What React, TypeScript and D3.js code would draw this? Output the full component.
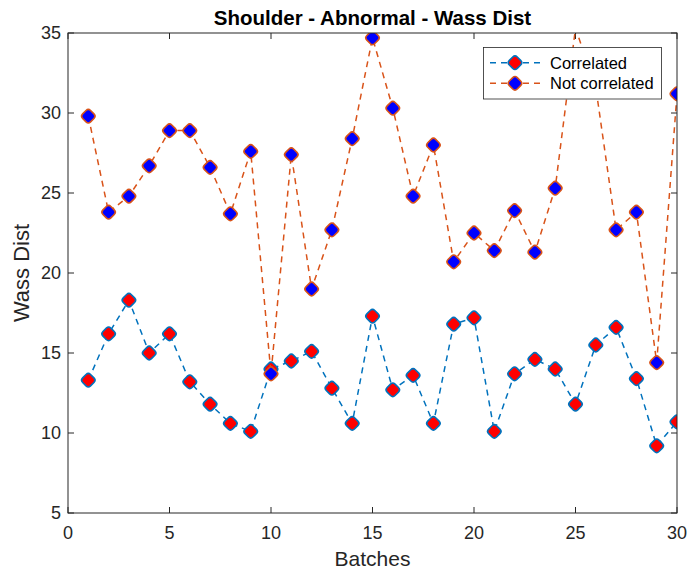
import React from "react";
import * as d3 from "d3";

const batches: number[] = Array.from({ length: 30 }, (_, i) => i + 1);
const correlated: number[] = [
  13.3, 16.2, 18.3, 15.0, 16.2, 13.2, 11.8, 10.6, 10.1, 14.0,
  14.5, 15.1, 12.8, 10.6, 17.3, 12.7, 13.6, 10.6, 16.8, 17.2,
  10.1, 13.7, 14.6, 14.0, 11.8, 15.5, 16.6, 13.4, 9.2, 10.7,
];
const notCorrelated: number[] = [
  29.8, 23.8, 24.8, 26.7, 28.9, 28.9, 26.6, 23.7, 27.6, 13.7,
  27.4, 19.0, 22.7, 28.4, 34.7, 30.3, 24.8, 28.0, 20.7, 22.5,
  21.4, 23.9, 21.3, 25.3, 35.3, 31.6, 22.7, 23.8, 14.4, 31.2,
];
const xTicks: number[] = [0, 5, 10, 15, 20, 25, 30];
const yTicks: number[] = [5, 10, 15, 20, 25, 30, 35];
const seriesNames: string[] = ["Correlated", "Not correlated"];

const W = 691;
const H = 576;
const L = 68;
const R = 677;
const T = 33;
const B = 513;
const FONT = "'Liberation Sans', Arial, Helvetica, sans-serif";
const AX = "#262626";

const styles = [
  { line: "#0072BD", fill: "#FF0000", edge: "#0072BD" },
  { line: "#D95319", fill: "#0000FF", edge: "#D95319" },
];

function Marker({ x, y, fill, edge }: { x: number; y: number; fill: string; edge: string }) {
  const s = 11.2;
  return (
    <rect
      x={-s / 2}
      y={-s / 2}
      width={s}
      height={s}
      rx={3.2}
      ry={3.2}
      transform={`translate(${x},${y}) rotate(45)`}
      fill={fill}
      stroke={edge}
      strokeWidth={1.6}
    />
  );
}

export default function App() {
  const x = d3.scaleLinear().domain([0, 30]).range([L, R]);
  const y = d3.scaleLinear().domain([5, 35]).range([B, T]);
  const line = d3
    .line<number>()
    .x((_, i) => x(batches[i]))
    .y((d) => y(d));
  const data = [correlated, notCorrelated];
  const tickLen = 6;

  const legX = 483.5;
  const legY = 47.5;
  const legW = 178;
  const legH = 51.5;
  const rows = [62.7, 83.3];

  return (
    <svg
      width={W}
      height={H}
      style={{ position: "absolute", left: 0, top: 0, background: "#fff" }}
      fontFamily={FONT}
    >
      <defs>
        <clipPath id="plotClip">
          <rect x={L} y={T} width={R - L} height={B - T} />
        </clipPath>
      </defs>
      <rect x={0} y={0} width={W} height={H} fill="#fff" />
      <rect x={L} y={T} width={R - L} height={B - T} fill="#fff" />

      {/* ticks */}
      {xTicks.map((t) => (
        <g key={"xt" + t}>
          <line x1={x(t)} x2={x(t)} y1={B} y2={B - tickLen} stroke={AX} strokeWidth={1} />
          <line x1={x(t)} x2={x(t)} y1={T} y2={T + tickLen} stroke={AX} strokeWidth={1} />
          <text x={x(t)} y={539} textAnchor="middle" fontSize={18} fill={AX}>
            {t}
          </text>
        </g>
      ))}
      {yTicks.map((t) => (
        <g key={"yt" + t}>
          <line x1={L} x2={L + tickLen} y1={y(t)} y2={y(t)} stroke={AX} strokeWidth={1} />
          <line x1={R} x2={R - tickLen} y1={y(t)} y2={y(t)} stroke={AX} strokeWidth={1} />
          <text x={61} y={y(t)} dy="0.36em" textAnchor="end" fontSize={18} fill={AX}>
            {t}
          </text>
        </g>
      ))}

      {/* data */}
      <g clipPath="url(#plotClip)">
        {data.map((vals, si) => (
          <g key={"s" + si}>
            <path
              d={line(vals) || ""}
              fill="none"
              stroke={styles[si].line}
              strokeWidth={1.5}
              strokeDasharray="6,5"
            />
            {vals.map((v, i) =>
              v <= 35 && v >= 5 ? (
                <Marker key={i} x={x(batches[i])} y={y(v)} fill={styles[si].fill} edge={styles[si].edge} />
              ) : null
            )}
          </g>
        ))}
      </g>

      {/* axes box */}
      <rect x={L} y={T} width={R - L} height={B - T} fill="none" stroke={AX} strokeWidth={1} />

      {/* labels */}
      <text x={(L + R) / 2} y={24.5} textAnchor="middle" fontSize={20.5} fontWeight="bold" fill="#000">
        Shoulder - Abnormal - Wass Dist
      </text>
      <text x={(L + R) / 2} y={566} textAnchor="middle" fontSize={21} fill={AX}>
        Batches
      </text>
      <text
        transform={`translate(29,${(T + B) / 2}) rotate(-90)`}
        textAnchor="middle"
        fontSize={22}
        fill={AX}
      >
        Wass Dist
      </text>

      {/* legend */}
      <rect x={legX} y={legY} width={legW} height={legH} fill="#fff" stroke={AX} strokeWidth={0.8} />
      {seriesNames.map((name, i) => (
        <g key={name}>
          <line
            x1={490}
            x2={540}
            y1={rows[i]}
            y2={rows[i]}
            stroke={styles[i].line}
            strokeWidth={1.5}
            strokeDasharray="6,5"
          />
          <Marker x={515} y={rows[i]} fill={styles[i].fill} edge={styles[i].edge} />
          <text x={550} y={rows[i]} dy="0.36em" fontSize={16.5} fill="#000">
            {name}
          </text>
        </g>
      ))}
    </svg>
  );
}
